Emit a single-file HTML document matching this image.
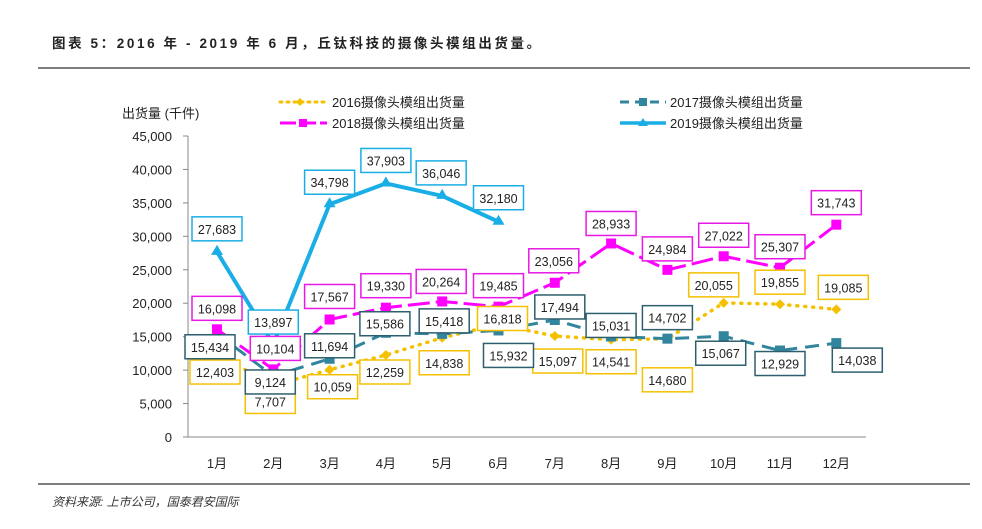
<!DOCTYPE html>
<html><head><meta charset="utf-8"><style>
body{margin:0;background:#fff;}
svg text{font-family:"Liberation Sans","Noto Sans CJK SC",sans-serif;}
</style></head><body>
<svg width="982" height="524" xmlns="http://www.w3.org/2000/svg">
<text x="52" y="48" font-size="13.5" font-weight="bold" fill="#222" letter-spacing="2.6">图表 5：2016 年 - 2019 年 6 月，丘钛科技的摄像头模组出货量。</text>
<line x1="38" y1="68" x2="970" y2="68" stroke="#333" stroke-width="1.2"/>
<line x1="38" y1="484" x2="970" y2="484" stroke="#333" stroke-width="1.2"/>
<text x="52" y="506" font-size="12" font-style="italic" fill="#333">资料来源: 上市公司，国泰君安国际</text>
<text x="122" y="118" font-size="13" fill="#222">出货量 (千件)</text>
<g id="axes"></g><g id="series"></g><g id="labels"></g>
<g>
<line x1="280" y1="102" x2="327" y2="102" stroke="#f5c000" stroke-width="3" stroke-dasharray="2,5" stroke-linecap="round"/>
<path d="M300 98 l4 4 -4 4 -4 -4z" fill="#f5c000"/>
<text x="332" y="107" font-size="13" fill="#222">2016摄像头模组出货量</text>
<line x1="620" y1="102" x2="666" y2="102" stroke="#31859c" stroke-width="3" stroke-dasharray="9,6"/>
<rect x="639" y="98" width="8" height="8" fill="#31859c"/>
<text x="670" y="107" font-size="13" fill="#222">2017摄像头模组出货量</text>
<line x1="280" y1="123" x2="327" y2="123" stroke="#ff00ff" stroke-width="3" stroke-dasharray="16,4"/>
<rect x="299" y="119" width="8" height="8" fill="#ff00ff"/>
<text x="332" y="128" font-size="13" fill="#222">2018摄像头模组出货量</text>
<line x1="620" y1="123" x2="666" y2="123" stroke="#1aaee6" stroke-width="3.5"/>
<path d="M643 118 l5 8 h-10z" fill="#1aaee6"/>
<text x="670" y="128" font-size="13" fill="#222">2019摄像头模组出货量</text>
</g>
</svg>
<script>
const months=['1月','2月','3月','4月','5月','6月','7月','8月','9月','10月','11月','12月'];
const yTicks=[0,5000,10000,15000,20000,25000,30000,35000,40000,45000];
const v2016=[12403,7707,10059,12259,14838,16818,15097,14541,14680,20055,19855,19085];
const v2017=[15434,9124,11694,15586,15418,15932,17494,15031,14702,15067,12929,14038];
const v2018=[16098,10104,17567,19330,20264,19485,23056,28933,24984,27022,25307,31743];
const v2019=[27683,13897,34798,37903,36046,32180];
// label layout offsets (px)
const dy16=[18,16,17,17,25,-6,25,22,41,-18,-22,-22];
const dx16=[-2,-3,3,-1,2,4,3,0,0,-10,0,7];
const dy17=[13,6,-13,-9,-13,25,-13,-11,-21,17,13,17];
const dx17=[-7,-3,0,-1,2,10,5,0,0,-3,0,21];
const dy18=[-21,-21,-23,-22,-20,-21,-22,-20,-21,-21,-21,-22];
const dx18=[0,2,0,0,-1,0,-1,0,0,0,0,0];
const dy19=[-23,-22,-22,-23,-23,-24];
const dx19=[0,0,0,0,-1,0];
const NS='http://www.w3.org/2000/svg';
const x0=217,step=56.3,yb=437,yt=136,ymax=45000;
const X=i=>x0+i*step, Y=v=>yb-v/ymax*(yb-yt);
function mk(t,a,p){const e=document.createElementNS(NS,t);for(const k in a)e.setAttribute(k,a[k]);p.appendChild(e);return e;}
const ax=document.getElementById('axes');
const yl=mk('line',{x1:188,y1:yt,x2:188,y2:yb,stroke:'#888'},ax);


const xl=mk('line',{x1:183,y1:yb,x2:866,y2:yb,stroke:'#888'},ax);


yTicks.forEach(t=>{mk('line',{x1:183,y1:Y(t),x2:188,y2:Y(t),stroke:'#888'},ax);
const tx=mk('text',{x:172,y:Y(t)+5,'text-anchor':'end','font-size':13,fill:'#222'},ax);tx.textContent=t.toLocaleString('en-US');

});
months.forEach((m,i)=>{const tx=mk('text',{x:X(i),y:468,'text-anchor':'middle','font-size':13,fill:'#222'},ax);tx.textContent=m;

});
const sg=document.getElementById('series'),lg=document.getElementById('labels');
function series(vals,name,col,w,dash,cap,marker,box,dx,dy){
 const g=mk('g',{},sg);
 
 
 const pts=vals.map((v,i)=>X(i)+','+Y(v)).join(' ');
 mk('polyline',{points:pts,fill:'none',stroke:col,'stroke-width':w,'stroke-dasharray':dash,'stroke-linecap':cap,'stroke-linejoin':'round'},g);
 vals.forEach((v,i)=>{const x=X(i),y=Y(v);let m;
  if(marker=='d')m=mk('path',{d:`M${x} ${y-5} l5 5 -5 5 -5 -5z`,fill:col},g);
  else if(marker=='s')m=mk('rect',{x:x-5,y:y-5,width:10,height:10,fill:col},g);
  else m=mk('path',{d:`M${x} ${y-7} l6 10 h-12z`,fill:col},g);
  
  
  const cx=x+dx[i],cy=y+dy[i];
  const r=mk('rect',{x:cx-25,y:cy-12,width:50,height:24,fill:'#fff',stroke:box,'stroke-width':1.5},lg);
  
  
  const t=mk('text',{x:cx,y:cy+5,'text-anchor':'middle','font-size':12.5,fill:'#222'},lg);t.textContent=v.toLocaleString('en-US');
  
  
 });
}
series(v2016,'series-2016','#f5c000',3.5,'1,7','round','d','#f5c000',dx16,dy16);
series(v2017,'series-2017','#31859c',3,'14,8','butt','s','#2e5f6f',dx17,dy17);
series(v2018,'series-2018','#ff00ff',3,'22,6','butt','s','#e619e6',dx18,dy18);
series(v2019,'series-2019','#1aaee6',4,'','round','t','#1aaee6',dx19,dy19);
</script>
</body></html>
